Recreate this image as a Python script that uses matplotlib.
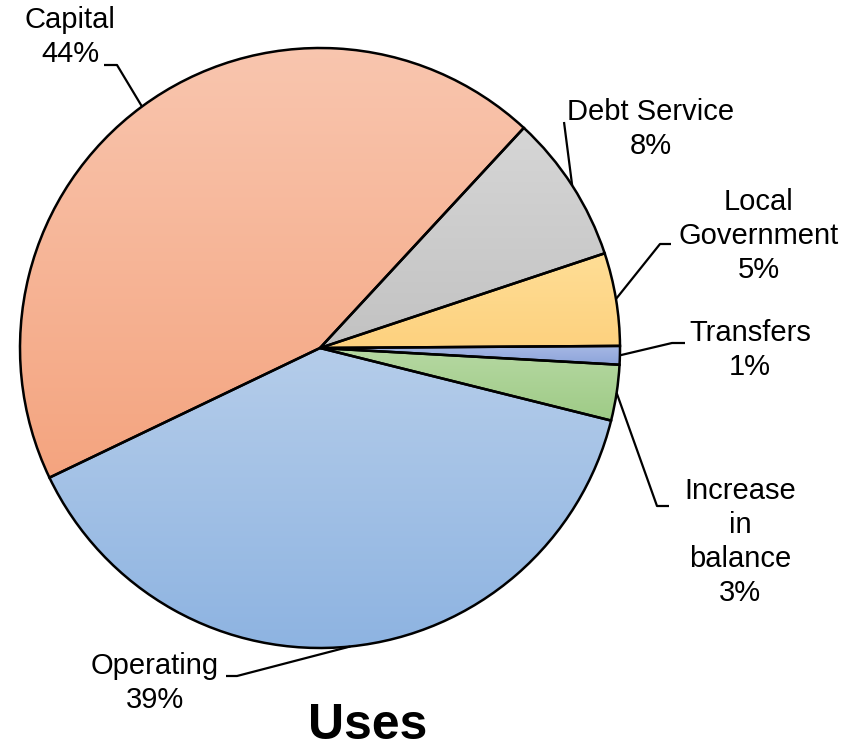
import numpy as np
import matplotlib
matplotlib.use("Agg")
import matplotlib.pyplot as plt
from matplotlib.colors import to_rgb

plt.rcParams['font.family'] = ['Liberation Sans', 'DejaVu Sans']

# Uses of funds, percent of total
categories = ["Capital", "Debt Service", "Local\nGovernment", "Transfers",
              "Increase\nin\nbalance", "Operating"]
shares = [44, 8, 5, 1, 3, 39]

# gradient fills: (top colour, bottom colour)
fills = [("#F9C6AF", "#F4A47F"),
         ("#D6D6D6", "#C2C2C2"),
         ("#FFDE96", "#FDD17E"),
         ("#A6B8E4", "#8CA3DA"),
         ("#B6D8A2", "#9ECB86"),
         ("#B5CDEA", "#8DB3E1")]

W, H = 847, 751
fig = plt.figure(figsize=(W / 100, H / 100), dpi=100)
ax = fig.add_axes([0, 0, 1, 1])


def py(y):
    # pixel row (from top) -> data y
    return H - y


cx, cy, r = 320, py(348), 300
wedges, _ = ax.pie(shares, startangle=205.6, counterclock=False,
                   center=(cx, cy), radius=r,
                   wedgeprops=dict(edgecolor="black", linewidth=1.8,
                                   facecolor="none", zorder=3))

for w, (top, bot) in zip(wedges, fills):
    verts = w.get_path().vertices
    x0, y0 = verts.min(axis=0)
    x1, y1 = verts.max(axis=0)
    t = np.linspace(0, 1, 256)[:, None, None]
    grad = (1 - t) * np.array(to_rgb(bot)) + t * np.array(to_rgb(top))
    im = ax.imshow(grad, extent=[x0, x1, y0, y1], origin="lower",
                   aspect="auto", interpolation="bicubic", zorder=1)
    im.set_clip_path(w)

# label text centres, leader elbow and leader end (pixels from top-left)
label_pos = [(70, 37), (651, 129), (759, 236), (750, 350), (740, 542), (155, 683)]
elbows = [(117, 65), (564, 122), (660, 244), (672, 343), (657, 506), (237, 676)]
ends = [(104, 65), None, (671, 244), (685, 343), (669, 506), (226, 676)]

for w, cat, val, lp, el, en in zip(wedges, categories, shares,
                                   label_pos, elbows, ends):
    mid = np.deg2rad((w.theta1 + w.theta2) / 2)
    sx, sy = cx + r * np.cos(mid), cy + r * np.sin(mid)
    xs, ys = [sx, el[0]], [sy, py(el[1])]
    if en is not None:
        xs.append(en[0])
        ys.append(py(en[1]))
    ax.plot(xs, ys, color="black", linewidth=1.6, zorder=4,
            solid_capstyle="butt")
    ax.text(lp[0], py(lp[1]), f"{cat}\n{val}%", ha="center", va="center",
            fontsize=21, linespacing=1.27, color="black")

ax.text(368, py(726), "Uses", ha="center", va="center",
        fontsize=36, fontweight="bold")

ax.set_xlim(0, W)
ax.set_ylim(0, H)
ax.axis("off")
fig.savefig("out.png", dpi=100, facecolor="white")
